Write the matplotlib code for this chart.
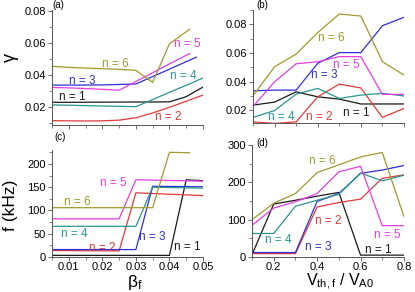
import matplotlib
matplotlib.use('Agg')
import matplotlib.pyplot as plt
from matplotlib.ticker import MultipleLocator

plt.rcParams['font.family'] = ['Liberation Sans', 'DejaVu Sans']
plt.rcParams['mathtext.fontset'] = 'custom'
plt.rcParams['mathtext.rm'] = 'Liberation Sans'
plt.rcParams['mathtext.it'] = 'Liberation Sans:italic'

# colours for n = 1..6
colors = ['#1a1a1a', '#e23a3a', '#2f2fd8', '#2a9690', '#e23ee2', '#a09a2c']
names = ['n = 1', 'n = 2', 'n = 3', 'n = 4', 'n = 5', 'n = 6']

# (a) gamma vs beta_f
a_x = [
    [0.005, 0.01, 0.02, 0.03, 0.035, 0.04, 0.045, 0.05],
    [0.005, 0.01, 0.015, 0.02, 0.025, 0.03, 0.035, 0.04, 0.045, 0.05],
    [0.005, 0.01, 0.02, 0.03, 0.035, 0.04, 0.048],
    [0.005, 0.01, 0.02, 0.03, 0.035, 0.04, 0.045, 0.05],
    [0.005, 0.01, 0.02, 0.025, 0.03, 0.035, 0.04, 0.046],
    [0.005, 0.01, 0.015, 0.02, 0.025, 0.03, 0.035, 0.04, 0.046],
]
a_y = [
    [0.0231, 0.0231, 0.0232, 0.0233, 0.0233, 0.0234, 0.0266, 0.0326],
    [0.0117, 0.0116, 0.0115, 0.0116, 0.012, 0.0135, 0.0165, 0.02, 0.0238, 0.0276],
    [0.0338, 0.0338, 0.0339, 0.0345, 0.0391, 0.0437, 0.0512],
    [0.0215, 0.0213, 0.0208, 0.0204, 0.0248, 0.0293, 0.0337, 0.0382],
    [0.0323, 0.0321, 0.0312, 0.0306, 0.0361, 0.0415, 0.047, 0.0534],
    [0.0455, 0.0448, 0.0444, 0.044, 0.0436, 0.043, 0.0355, 0.0595, 0.0685],
]
a_lab = [(0.011, 0.0264), (0.0396, 0.014), (0.0139, 0.0362),
         (0.044, 0.0393), (0.0452, 0.0596), (0.0238, 0.0467)]

# (b) gamma vs V_th,f / V_A0
v = [0.1, 0.2, 0.3, 0.4, 0.5, 0.6, 0.7, 0.8]
b_y = [
    [0.0235, 0.0256, 0.0328, 0.0293, 0.0277, 0.0243, 0.0243, 0.0243],
    [0.0118, 0.0107, 0.0118, 0.0293, 0.0382, 0.0355, 0.0149, 0.0212],
    [0.0335, 0.034, 0.034, 0.0527, 0.0602, 0.0602, 0.079, 0.0849],
    [0.0149, 0.0197, 0.0312, 0.0352, 0.0282, 0.0305, 0.0317, 0.0299],
    [0.0225, 0.0398, 0.0524, 0.0538, 0.0574, 0.0574, 0.031, 0.031],
    [0.030, 0.0503, 0.0592, 0.0742, 0.0872, 0.0858, 0.0539, 0.0445],
]
b_lab = [(0.58, 0.0179), (0.409, 0.0151), (0.432, 0.0445),
         (0.233, 0.0151), (0.534, 0.0515), (0.465, 0.0704)]

# (c) f (kHz) vs beta_f
c_x = [
    [0.005, 0.04, 0.045, 0.05],
    [0.005, 0.025, 0.03, 0.05],
    [0.005, 0.03, 0.035, 0.05],
    [0.005, 0.03, 0.035, 0.05],
    [0.005, 0.025, 0.03, 0.05],
    [0.005, 0.035, 0.04, 0.046],
]
c_y = [
    [3.5, 3.5, 166, 164],
    [14, 13, 138, 132],
    [16, 16, 152, 151],
    [66, 66, 150, 148],
    [82, 82, 166, 163],
    [106, 106, 225, 224],
]
c_lab = [(0.0452, 21), (0.0199, 19), (0.0348, 42),
         (0.0116, 49), (0.0232, 159), (0.0125, 118)]

# (d) f (kHz) vs V_th,f / V_A0
d_y = [
    [6, 142, 152, 163, 173, 5, 5, 5],
    [9, 9, 9, 134, 146, 155, 211, 220],
    [12, 12, 12, 149, 170, 224, 233, 245],
    [63, 63, 136, 152, 168, 225, 204, 219],
    [85, 131, 148, 170, 228, 243, 84, 84],
    [100, 144, 170, 226, 247, 268, 280, 108],
]
d_lab = [(0.68, 20), (0.449, 97), (0.403, 28),
         (0.219, 46), (0.721, 60), (0.426, 258)]

W, H = 415, 292
fig = plt.figure(figsize=(W / 100, H / 100), dpi=100)


def box(l, t, r, b):
    return [l / W, 1 - b / H, (r - l) / W, (b - t) / H]


ax_a = fig.add_axes(box(52, 10, 203, 125))
ax_b = fig.add_axes(box(253, 10, 404, 123))
ax_c = fig.add_axes(box(52, 150, 203, 257))
ax_d = fig.add_axes(box(252, 145, 404, 257))

for ax in [ax_a, ax_b, ax_c, ax_d]:
    for s in ['top', 'right']:
        ax.spines[s].set_visible(False)
    for s in ['left', 'bottom']:
        ax.spines[s].set_linewidth(0.7)
        ax.spines[s].set_color('#555555')
    ax.tick_params(which='major', length=3, width=0.6, labelsize=8, pad=1.5, color='#555555')
    ax.tick_params(which='minor', length=2, width=0.5, color='#555555')
    ax.tick_params(axis='x', pad=0.5)

for i in range(6):
    ax_a.plot(a_x[i], a_y[i], color=colors[i], lw=0.9)
    ax_a.text(*a_lab[i], names[i], color=colors[i], fontsize=8.5, ha='center', va='center')
    ax_b.plot(v, b_y[i], color=colors[i], lw=0.9)
    ax_b.text(*b_lab[i], names[i], color=colors[i], fontsize=8.5, ha='center', va='center')
    ax_c.plot(c_x[i], c_y[i], color=colors[i], lw=0.9)
    ax_c.text(*c_lab[i], names[i], color=colors[i], fontsize=8.5, ha='center', va='center')
    ax_d.plot(v, d_y[i], color=colors[i], lw=0.9)
    ax_d.text(*d_lab[i], names[i], color=colors[i], fontsize=8.5, ha='center', va='center')

for ax in [ax_a, ax_c]:
    ax.set_xlim(0.005, 0.05)
    ax.xaxis.set_major_locator(MultipleLocator(0.01))
    ax.xaxis.set_minor_locator(MultipleLocator(0.005))
for ax in [ax_b, ax_d]:
    ax.set_xlim(0.1, 0.8)
    ax.xaxis.set_major_locator(MultipleLocator(0.2))
    ax.xaxis.set_minor_locator(MultipleLocator(0.1))
ax_a.tick_params(labelbottom=False)
ax_b.tick_params(labelbottom=False)

ax_a.set_ylim(0.009, 0.0805)
ax_a.yaxis.set_major_locator(MultipleLocator(0.02))
ax_a.yaxis.set_minor_locator(MultipleLocator(0.01))
ax_b.set_ylim(0.011, 0.09)
ax_b.yaxis.set_major_locator(MultipleLocator(0.02))
ax_b.yaxis.set_minor_locator(MultipleLocator(0.01))
ax_c.set_ylim(0, 230)
ax_c.yaxis.set_major_locator(MultipleLocator(50))
ax_c.yaxis.set_minor_locator(MultipleLocator(25))
ax_d.set_ylim(0, 300)
ax_d.yaxis.set_major_locator(MultipleLocator(100))
ax_d.yaxis.set_minor_locator(MultipleLocator(50))

fig.text(58 / W, 1 - 5 / H, '(a)', fontsize=7, ha='center', va='center')
fig.text(262 / W, 1 - 5 / H, '(b)', fontsize=7, ha='center', va='center')
fig.text(60 / W, 1 - 137 / H, '(c)', fontsize=7, ha='center', va='center')
fig.text(262 / W, 1 - 143 / H, '(d)', fontsize=7, ha='center', va='center')

fig.text(10 / W, 1 - 58 / H, 'γ', fontsize=13, rotation=90, ha='center', va='center')
fig.text(10 / W, 1 - 205 / H, 'f (kHz)', fontsize=12.5, rotation=90, ha='center', va='center')
fig.text(135 / W, 1 - 292 / H, 'β$_\\mathrm{f}$', fontsize=12.5, ha='center', va='bottom')
fig.text(340 / W, 1 - 292 / H, 'V$_\\mathrm{th,f}$ / V$_\\mathrm{A0}$', fontsize=11.5, ha='center', va='bottom')

fig.savefig('out.png', dpi=100)
